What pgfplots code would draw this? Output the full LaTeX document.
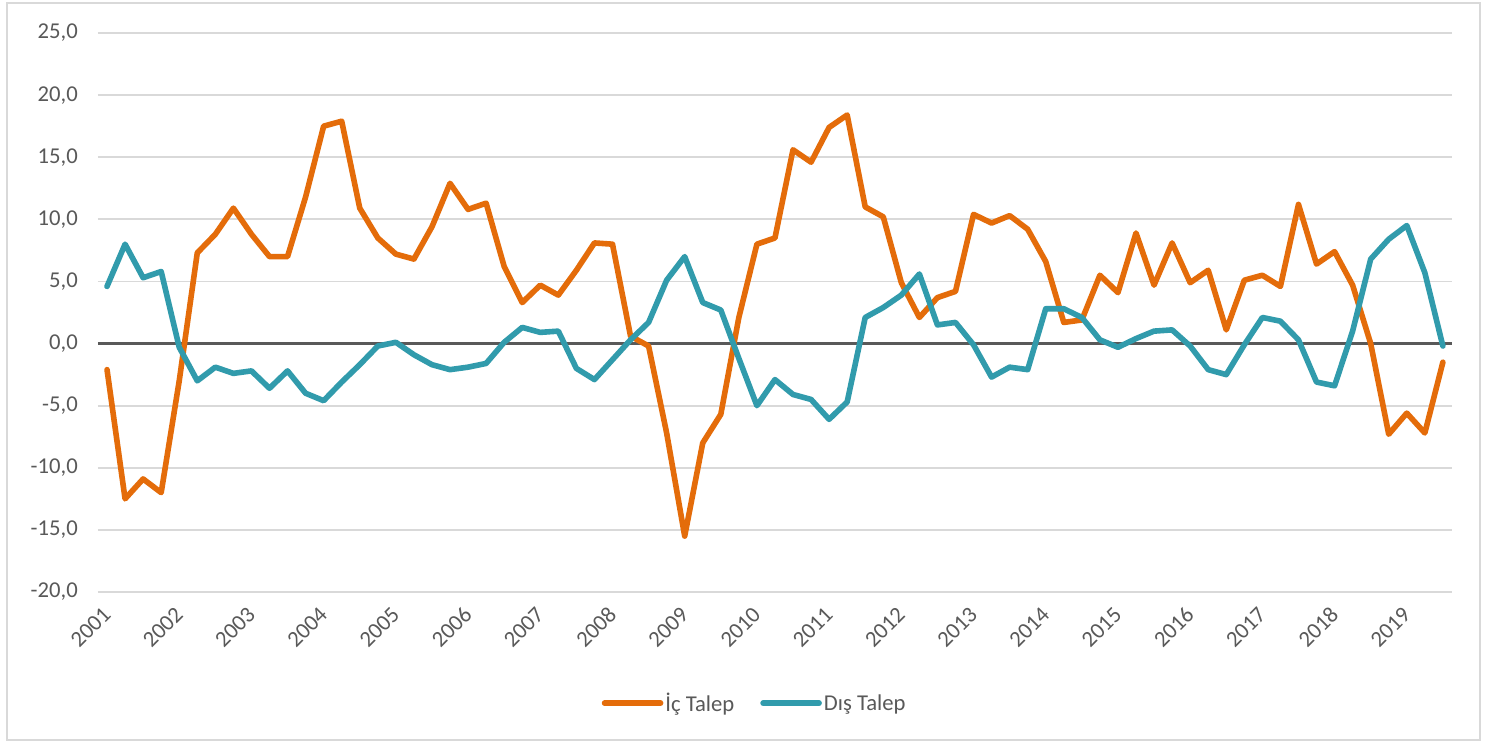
\documentclass[border=0pt]{standalone}
\usepackage{fontspec}
\setmainfont{Carlito}
\usepackage{pgfplots}
\usepackage{pgfplotstable}
\pgfplotsset{compat=1.18}

\definecolor{ictalep}{RGB}{228,108,10}
\definecolor{distalep}{RGB}{49,155,172}
\definecolor{txtgray}{RGB}{89,89,89}
\definecolor{gridgray}{RGB}{217,217,217}
\definecolor{zerogray}{RGB}{89,89,89}

% quarterly, 2001Q1 = 0 ... 2019Q3 = 74
\pgfplotstableread{
i  ic     dis
0  -2.1   4.6
1  -12.5  8.0
2  -10.9  5.3
3  -12.0  5.8
4  -3.0  -0.3
5   7.3  -3.0
6   8.8  -1.9
7  10.9  -2.4
8   8.8  -2.2
9   7.0  -3.6
10  7.0  -2.2
11 11.8  -4.0
12 17.5  -4.6
13 17.9  -3.1
14 10.9  -1.7
15  8.5  -0.2
16  7.2   0.1
17  6.8  -0.9
18  9.4  -1.7
19 12.9  -2.1
20 10.8  -1.9
21 11.3  -1.6
22  6.2   0.1
23  3.3   1.3
24  4.7   0.9
25  3.9   1.0
26  5.9  -2.0
27  8.1  -2.9
28  8.0  -1.3
29  0.6   0.3
30 -0.2   1.7
31 -7.2   5.1
32 -15.5  7.0
33 -8.0   3.3
34 -5.7   2.7
35  2.1  -1.2
36  8.0  -5.0
37  8.5  -2.9
38 15.6  -4.1
39 14.6  -4.5
40 17.4  -6.1
41 18.4  -4.7
42 11.0   2.1
43 10.2   2.9
44  4.9   3.9
45  2.1   5.6
46  3.7   1.5
47  4.2   1.7
48 10.4  -0.1
49  9.7  -2.7
50 10.3  -1.9
51  9.2  -2.1
52  6.6   2.8
53  1.7   2.8
54  1.9   2.1
55  5.5   0.3
56  4.1  -0.3
57  8.9   0.4
58  4.7   1.0
59  8.1   1.1
60  4.9  -0.2
61  5.9  -2.1
62  1.1  -2.5
63  5.1  -0.1
64  5.5   2.1
65  4.6   1.8
66 11.2   0.3
67  6.4  -3.1
68  7.4  -3.4
69  4.7   1.0
70  0.0   6.8
71 -7.3   8.4
72 -5.6   9.5
73 -7.2   5.7
74 -1.5  -0.2
}\datatable

\begin{document}
\begin{tikzpicture}
\useasboundingbox (0pt,0pt) rectangle (1114.5pt,557.25pt);
\fill[white] (0pt,0pt) rectangle (1114.5pt,557.25pt);
\draw[gridgray, line width=1.2pt] (5.25pt,2.25pt) rectangle (1110pt,555pt);
\begin{axis}[
    at={(73.5pt,113.25pt)}, anchor=south west,
    scale only axis, width=1015.5pt, height=419.25pt,
    xmin=-0.5, xmax=74.5, ymin=-20, ymax=25,
    ytick={-20,-15,...,25},
    xtick={0,4,...,72},
    xticklabels={2001,2002,2003,2004,2005,2006,2007,2008,2009,2010,2011,2012,2013,2014,2015,2016,2017,2018,2019},
    axis line style={draw=none},
    major tick length=0pt,
    ymajorgrids, grid style={gridgray, line width=1.3pt},
    extra y ticks={0}, extra y tick labels={},
    extra y tick style={grid style={zerogray, line width=2.2pt}},
    /pgf/number format/.cd, fixed, fixed zerofill, precision=1, use comma, assume math mode=true,
    /pgfplots/.cd,
    yticklabel style={font=\fontsize{17}{20}\selectfont, text=txtgray, inner sep=0pt, xshift=-15pt},
    xticklabel style={font=\fontsize{17}{20}\selectfont, text=txtgray, rotate=45, anchor=east, inner sep=0pt},
    xticklabel shift=14pt,
    legend style={at={(0.485,-0.199)}, anchor=center, draw=none, fill=none,
                  legend columns=2,
                  font=\fontsize{17}{20}\selectfont, text=txtgray,
                  /tikz/every even column/.append style={column sep=18pt},
                  nodes={inner sep=1.5pt}},
    legend image code/.code={\draw[#1] (0pt,0pt) -- (42pt,0pt);},
    every axis plot/.append style={line width=4.2pt, line join=round, line cap=round},
]
\addplot[ictalep] table[x=i, y=ic] {\datatable};
\addlegendentry{İç Talep}
\addplot[distalep] table[x=i, y=dis] {\datatable};
\addlegendentry{Dış Talep}
\end{axis}
\end{tikzpicture}
\end{document}
